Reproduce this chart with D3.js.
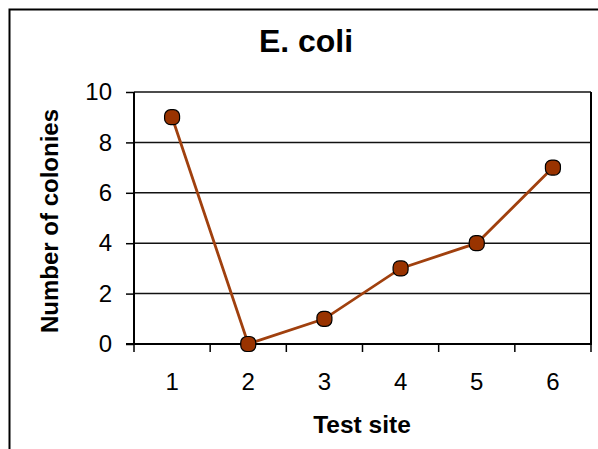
<!DOCTYPE html>
<html>
<head>
<meta charset="utf-8">
<script src="https://cdn.jsdelivr.net/npm/d3@7"></script>
<style>
  body { margin: 0; background: #fff; }
  svg text { font-family: Arial, "Liberation Sans", sans-serif; fill: #000; }
</style>
</head>
<body>
<script>
// chart data
var sites = ["1", "2", "3", "4", "5", "6"];
var colonies = [9, 0, 1, 3, 4, 7];
var yTicks = [0, 2, 4, 6, 8, 10];

var width = 598,
    height = 449;

var plotLeft = 134, plotRight = 591, plotTop = 92, plotBottom = 344;

var svg = d3.select("body")
    .append("svg")
    .attr("width", width)
    .attr("height", height);

// outer frame (runs off the right and bottom edges)
svg.append("rect")
    .attr("x", 9.5)
    .attr("y", 9.5)
    .attr("width", 800)
    .attr("height", 800)
    .attr("fill", "none")
    .attr("stroke", "#000")
    .attr("stroke-width", 2);

var x = d3.scaleBand()
    .domain(sites)
    .range([plotLeft, plotRight])
    .padding(0);

var y = d3.scaleLinear()
    .domain([0, 10])
    .range([plotBottom, plotTop]);

// gridlines
svg.selectAll(".grid")
    .data(yTicks.filter(function(d){ return d > 0; }))
    .enter()
    .append("line")
    .attr("class", "grid")
    .attr("x1", plotLeft)
    .attr("x2", plotRight)
    .attr("y1", function(d){ return y(d); })
    .attr("y2", function(d){ return y(d); })
    .attr("stroke", "#111")
    .attr("stroke-width", 1.5);

// right border of plot area
svg.append("line")
    .attr("x1", plotRight).attr("x2", plotRight)
    .attr("y1", plotTop).attr("y2", plotBottom)
    .attr("stroke", "#000")
    .attr("stroke-width", 2);

// y axis
var yAxis = svg.append("g")
    .attr("transform", "translate(" + plotLeft + ",0)")
    .call(d3.axisLeft(y).tickValues(yTicks).tickSize(8).tickPadding(14));
yAxis.select(".domain").attr("stroke-width", 2).attr("d", "M0," + plotTop + "V" + plotBottom);
yAxis.selectAll(".tick line").attr("stroke-width", 1.5);
yAxis.selectAll("text").attr("font-size", "24px").attr("font-family", "Arial, 'Liberation Sans', sans-serif");

// x axis: labels centred in each category, ticks on the boundaries
var xAxis = svg.append("g")
    .attr("transform", "translate(0," + plotBottom + ")")
    .call(d3.axisBottom(x).tickSize(0).tickPadding(29));
xAxis.select(".domain").remove();
xAxis.selectAll("text").attr("font-size", "24px").attr("font-family", "Arial, 'Liberation Sans', sans-serif");

var bounds = sites.map(function(d){ return x(d); }).concat([plotRight]);
svg.selectAll(".xtick")
    .data(bounds)
    .enter()
    .append("line")
    .attr("class", "xtick")
    .attr("x1", function(d){ return d; })
    .attr("x2", function(d){ return d; })
    .attr("y1", plotBottom)
    .attr("y2", plotBottom + 8)
    .attr("stroke", "#000")
    .attr("stroke-width", 1.5);

svg.append("line")
    .attr("x1", plotLeft - 8).attr("x2", plotRight + 1)
    .attr("y1", plotBottom).attr("y2", plotBottom)
    .attr("stroke", "#000")
    .attr("stroke-width", 2);

// series line
var cx = function(d, i){ return x(sites[i]) + x.bandwidth() / 2; };
var line = d3.line()
    .x(cx)
    .y(function(d){ return y(d); });

svg.append("path")
    .datum(colonies)
    .attr("d", line)
    .attr("fill", "none")
    .attr("stroke", "#a0400e")
    .attr("stroke-width", 2.8);

svg.selectAll(".pt")
    .data(colonies)
    .enter()
    .append("rect")
    .attr("class", "pt")
    .attr("x", function(d, i){ return cx(d, i) - 7.5; })
    .attr("y", function(d){ return y(d) - 7.5; })
    .attr("width", 15)
    .attr("height", 15)
    .attr("rx", 6)
    .attr("fill", "#993300")
    .attr("stroke", "#000")
    .attr("stroke-width", 1.2);

// titles
svg.append("text")
    .attr("x", 306)
    .attr("y", 52)
    .attr("text-anchor", "middle")
    .attr("font-size", "32px")
    .attr("font-weight", "bold")
    .text("E. coli");

svg.append("text")
    .attr("x", 362)
    .attr("y", 433)
    .attr("text-anchor", "middle")
    .attr("font-size", "24.5px")
    .attr("font-weight", "bold")
    .text("Test site");

svg.append("text")
    .attr("transform", "translate(58,221) rotate(-90)")
    .attr("text-anchor", "middle")
    .attr("font-size", "24px")
    .attr("font-weight", "bold")
    .text("Number of colonies");
</script>
</body>
</html>
